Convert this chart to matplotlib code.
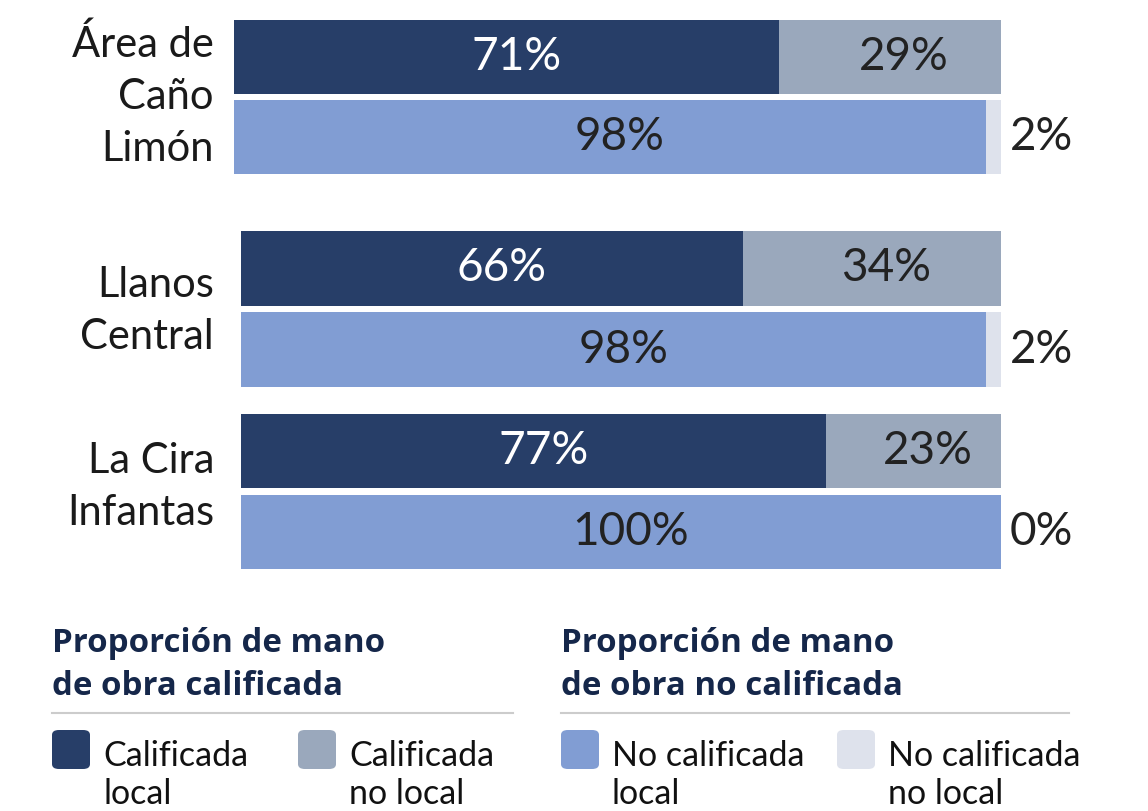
import matplotlib
matplotlib.use("Agg")
import matplotlib.pyplot as plt
from matplotlib.patches import FancyBboxPatch
from matplotlib.lines import Line2D

plt.rcParams["font.family"] = ["Lato", "DejaVu Sans"]

# Data
regions = [["Área de", "Caño", "Limón"], ["Llanos", "Central"], ["La Cira", "Infantas"]]
calificada_local = [71, 66, 77]
calificada_no_local = [29, 34, 23]
no_calificada_local = [98, 98, 100]
no_calificada_no_local = [2, 2, 0]

series_names = [["Calificada", "local"], ["Calificada", "no local"],
                ["No calificada", "local"], ["No calificada", "no local"]]
colors = ["#273E68", "#9AA8BC", "#819DD3", "#DEE2EC"]
legend_titles = [["Proporción de mano", "de obra calificada"],
                 ["Proporción de mano", "de obra no calificada"]]

W, H = 1148, 812
fig = plt.figure(figsize=(W / 100, H / 100), dpi=100)


def fy(py):
    """Pixel row (from top) to figure fraction."""
    return 1 - py / H


# pixel boxes (left, top, right, bottom) for each region panel,
# plus the vertical centre of its name block
panels = [(234, 21, 1001, 175, 96), (241, 232, 1001, 388, 310), (241, 415, 1001, 570, 486)]

VAL_FS = 33
CAT_FS = 30
CAT_STEP = 52
for i, (l, t, r, b, yc) in enumerate(panels):
    ax = fig.add_axes([l / W, fy(b), (r - l) / W, (b - t) / H])
    h = 0.925
    rows = [
        (calificada_local[i], calificada_no_local[i], colors[0], colors[1], "white", "#222222"),
        (no_calificada_local[i], no_calificada_no_local[i], colors[2], colors[3], "#222222", "#222222"),
    ]
    for y, (v1, v2, c1, c2, tc1, tc2) in enumerate(rows):
        ax.barh(y, v1, height=h, color=c1, left=0, linewidth=0)
        ax.barh(y, v2, height=h, color=c2, left=v1, linewidth=0)
        ax.annotate(f"{v1}%", xy=(v1 / 2, y), xytext=(10, 1),
                    textcoords="offset pixels", ha="center", va="center",
                    color=tc1, fontsize=VAL_FS)
        if v2 >= 10:
            ax.annotate(f"{v2}%", xy=(v1 + v2 / 2, y), xytext=(14, 1),
                        textcoords="offset pixels", ha="center", va="center",
                        color=tc2, fontsize=VAL_FS)
        else:
            ax.annotate(f"{v2}%", xy=(100, y), xytext=(9, 1),
                        textcoords="offset pixels", ha="left", va="center",
                        color=tc2, fontsize=VAL_FS, annotation_clip=False)
    ax.set_xlim(0, 100)
    ax.set_ylim(1 + h / 2, -h / 2)
    ax.axis("off")

    lines = regions[i]
    n = len(lines)
    for k, line in enumerate(lines):
        base = yc + (k - (n - 1) / 2) * CAT_STEP + 13
        fig.text(214 / W, fy(base), line, ha="right", va="baseline",
                 fontsize=CAT_FS, color="#1a1a1a")

# Legend blocks
TITLE_COLOR = "#15274A"
blocks = [(52, 513, [0, 1], [(52, 103), (298, 349)]),
          (561, 1069, [2, 3], [(561, 612), (837, 888)])]
for k, (x0, x1, idx, pos) in enumerate(blocks):
    for m, line in enumerate(legend_titles[k]):
        fig.text(x0 / W, fy(652 + 43 * m), line, ha="left", va="baseline",
                 fontsize=23.8, fontweight="bold", color=TITLE_COLOR,
                 family=["Open Sans", "DejaVu Sans"])
    fig.add_artist(Line2D([x0 / W, x1 / W], [fy(714), fy(714)],
                          color="#CCCCCC", linewidth=1.5))
    for j, (sx, tx) in zip(idx, pos):
        sq = FancyBboxPatch((sx / W, fy(770)), 38 / W, 39 / H,
                            boxstyle="round,pad=0,rounding_size=0.006",
                            transform=fig.transFigure, facecolor=colors[j],
                            edgecolor="none")
        fig.add_artist(sq)
        for m, line in enumerate(series_names[j]):
            fig.text(tx / W, fy(766 + 38 * m), line, ha="left", va="baseline",
                     fontsize=24.5, color="#111111")

fig.savefig("out.png", dpi=100)
